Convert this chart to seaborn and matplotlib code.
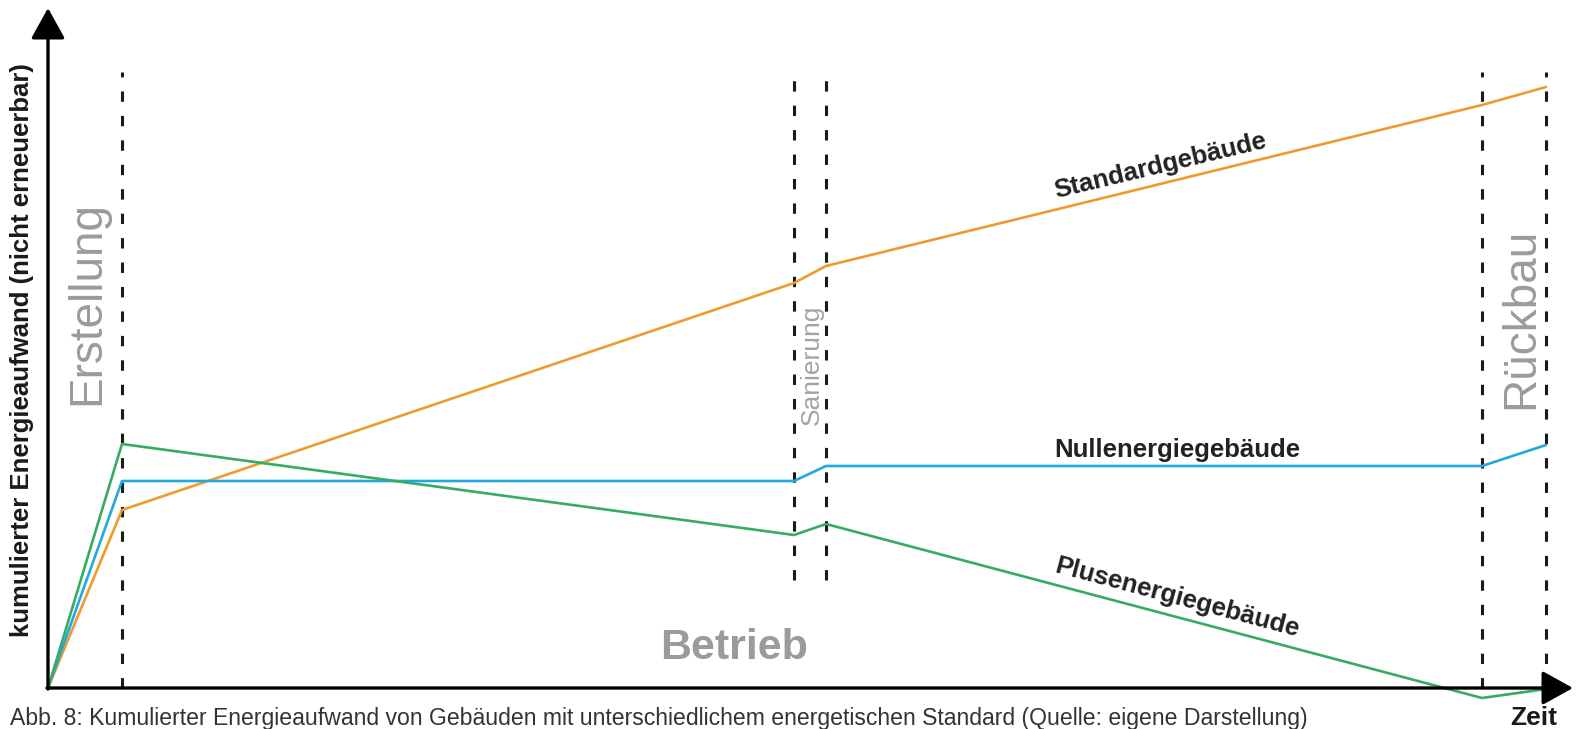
import matplotlib
matplotlib.use("Agg")
import matplotlib.pyplot as plt
import seaborn as sns
import pandas as pd

# --- data (time axis and cumulative energy, arbitrary units) ---
zeit = [0, 74, 746, 778, 1434, 1498]
standardgebaeude = [0, 178, 405, 422, 583, 601]
nullenergiegebaeude = [0, 207, 207, 222, 222, 243]
plusenergiegebaeude = [0, 244, 153, 164, -10, -1]

gebaeude_namen = ["Standardgebäude", "Nullenergiegebäude", "Plusenergiegebäude"]
farben = ["#EE9A2E", "#22A8E0", "#35AC62"]

phasen_grenzen = [74, 746, 778, 1434, 1498]
phasen_oben = [616, 618, 618, 616, 616]
phasen_unten = [0, 108, 108, 0, 0]

y_titel = "kumulierter Energieaufwand (nicht erneuerbar)"
x_titel = "Zeit"
bildunterschrift = ("Abb. 8: Kumulierter Energieaufwand von Gebäuden mit unterschiedlichem "
                    "energetischen Standard (Quelle: eigene Darstellung)")

# --- build long-form table ---
rows = []
for name, werte in zip(gebaeude_namen, [standardgebaeude, nullenergiegebaeude, plusenergiegebaeude]):
    for t, v in zip(zeit, werte):
        rows.append({"zeit": t, "energie": v, "gebaeude": name})
df = pd.DataFrame(rows)

sns.set_theme(style="white")
plt.rcParams["font.family"] = ["Liberation Sans", "DejaVu Sans"]

fig = plt.figure(figsize=(15.76, 7.29), dpi=100)
ax = fig.add_axes([0, 0, 1, 1])
ax.set_xlim(-48, 1528)
ax.set_ylim(-41, 688)
ax.axis("off")

# phase boundaries
for x, top, bot in zip(phasen_grenzen, phasen_oben, phasen_unten):
    ax.plot([x, x], [bot, top], color="#1a1a1a", lw=2.2, dashes=(3.4, 4.6), zorder=1)

sns.lineplot(data=df, x="zeit", y="energie", hue="gebaeude", hue_order=gebaeude_namen,
             palette=dict(zip(gebaeude_namen, farben)), estimator=None, sort=False,
             legend=False, lw=1.9, ax=ax, zorder=3)
for l in ax.lines:
    l.set_clip_on(False)

# axes with arrows
arrow = dict(arrowstyle="-|>,head_length=1.9,head_width=1.05", lw=2.4, color="black",
             shrinkA=0, shrinkB=0, mutation_scale=10)
ax.annotate("", xy=(0, 680), xytext=(0, -1), arrowprops=arrow, zorder=5)
ax.annotate("", xy=(1525, 0), xytext=(-1, 0), arrowprops=arrow, zorder=5)

# axis titles
ax.text(-26, 338, y_titel, rotation=90, ha="center", va="center",
        fontsize=18.5, fontweight="bold", color="#1a1a1a")
ax.text(1486, -30, x_titel, ha="center", va="center", fontsize=19,
        fontweight="bold", color="#1a1a1a")

# phase labels
grau = "#9b9b9b"
ax.text(39, 385, "Erstellung", rotation=90, ha="center", va="center",
        fontsize=33, color=grau)
ax.text(764, 323, "Sanierung", rotation=90, ha="center", va="center",
        fontsize=19, color="#a3a3a3")
ax.text(1473, 370, "Rückbau", rotation=90, ha="center", va="center",
        fontsize=33, color=grau)
ax.text(686, 40, "Betrieb", ha="center", va="center", fontsize=31,
        fontweight="bold", color=grau)

# series labels
ax.text(1112, 522, "Standardgebäude", rotation=13.5, rotation_mode="anchor",
        ha="center", va="center", fontsize=18.5, fontweight="bold", color="#222222")
ax.text(1129, 238, "Nullenergiegebäude", ha="center", va="center",
        fontsize=18.5, fontweight="bold", color="#222222")
ax.text(1129, 90, "Plusenergiegebäude", rotation=-14.9, rotation_mode="anchor",
        ha="center", va="center", fontsize=18.5, fontweight="bold", color="#222222")

# caption
ax.text(-38, -30, bildunterschrift, ha="left", va="center", fontsize=16.6, color="#333333")

fig.savefig("out.png", dpi=100, facecolor="white")
